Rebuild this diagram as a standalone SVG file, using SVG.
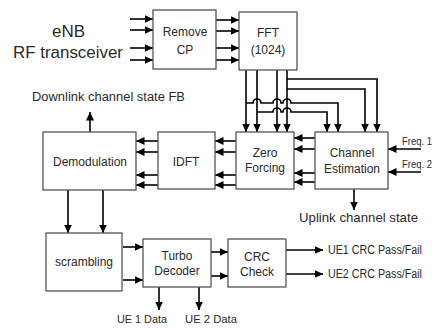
<svg xmlns="http://www.w3.org/2000/svg" width="440" height="329" viewBox="0 0 440 329">
<defs>
<marker id="ah" markerUnits="userSpaceOnUse" markerWidth="9" markerHeight="9" refX="8.5" refY="4.5" orient="auto">
<path d="M0,0.5 L8.5,4.5 L0,8.5 z" fill="#000"/>
</marker>
</defs>
<style>
.box{fill:#fff;stroke:#555;stroke-width:1.3}
.t{font-family:"Liberation Sans",Arial,sans-serif;font-size:12px;fill:#2a2a2a;text-anchor:middle}
.l{font-family:"Liberation Sans",Arial,sans-serif;fill:#2a2a2a}
.c{fill:none;stroke:#000;stroke-width:1.6}
.a{fill:none;stroke:#000;stroke-width:1.6;marker-end:url(#ah)}
</style>
<rect width="440" height="329" fill="#fff"/>

<g id="connectors">
<path class="a" d="M130,19 H153"/>
<path class="a" d="M130,30 H153"/>
<path class="a" d="M130,48 H153"/>
<path class="a" d="M130,60 H153"/>
<path class="a" d="M216,20 H239"/>
<path class="a" d="M216,31 H239"/>
<path class="a" d="M216,48 H239"/>
<path class="a" d="M216,60 H239"/>
<path class="a" d="M246,70 V132"/>
<path class="a" d="M257,70 V132"/>
<path class="a" d="M277,70 V132"/>
<path class="a" d="M287,70 V132"/>
<path class="a" d="M287,79 H377 V132"/>
<path class="a" d="M287,89 H365 V132"/>
<path class="a" d="M246,103 H253 a4,4 0 0 1 8,0 H273 a4,4 0 0 1 8,0 H283 a4,4 0 0 1 8,0 H338 V132"/>
<path class="a" d="M257,112 H273 a4,4 0 0 1 8,0 H283 a4,4 0 0 1 8,0 H327 V132"/>
<path class="a" d="M315,138 H294"/>
<path class="a" d="M315,149 H294"/>
<path class="a" d="M315,173 H294"/>
<path class="a" d="M315,182 H294"/>
<path class="a" d="M236,141 H215"/>
<path class="a" d="M236,152 H215"/>
<path class="a" d="M236,175 H215"/>
<path class="a" d="M236,185 H215"/>
<path class="a" d="M158,141 H136"/>
<path class="a" d="M158,152 H136"/>
<path class="a" d="M158,175 H136"/>
<path class="a" d="M158,185 H136"/>
<path class="a" d="M90,132 V112"/>
<path class="a" d="M421,149 H388"/>
<path class="a" d="M421,172 H388"/>
<path class="a" d="M354,189 V210"/>
<path class="a" d="M68,190 V233"/>
<path class="a" d="M103,190 V233"/>
<path class="a" d="M123,247 H143"/>
<path class="a" d="M123,280 H143"/>
<path class="a" d="M159,287 V310"/>
<path class="a" d="M199,287 V310"/>
<path class="a" d="M211,252 H228"/>
<path class="a" d="M211,276 H228"/>
<path class="a" d="M286,250 H323"/>
<path class="a" d="M286,274 H323"/>
</g>

<g id="remove-cp"><rect class="box" x="153" y="10" width="63" height="59"/><text class="t" x="185" y="36">Remove</text><text class="t" x="185" y="54">CP</text></g>
<g id="fft"><rect class="box" x="239" y="12" width="58" height="58"/><text class="t" x="268" y="37">FFT</text><text class="t" x="268" y="54">(1024)</text></g>
<g id="demodulation"><rect class="box" x="43" y="132" width="93" height="58"/><text class="t" x="90" y="166">Demodulation</text></g>
<g id="idft"><rect class="box" x="158" y="132" width="57" height="57"/><text class="t" x="186" y="166">IDFT</text></g>
<g id="zero-forcing"><rect class="box" x="236" y="132" width="58" height="57"/><text class="t" x="265" y="157">Zero</text><text class="t" x="265" y="172">Forcing</text></g>
<g id="channel-estimation"><rect class="box" x="315" y="132" width="73" height="57"/><text class="t" x="352" y="157">Channel</text><text class="t" x="352" y="173">Estimation</text></g>
<g id="scrambling"><rect class="box" x="46" y="233" width="76" height="58"/><text class="t" x="84" y="266">scrambling</text></g>
<g id="turbo-decoder"><rect class="box" x="143" y="239" width="68" height="48"/><text class="t" x="177" y="260">Turbo</text><text class="t" x="177" y="275">Decoder</text></g>
<g id="crc-check"><rect class="box" x="228" y="239" width="58" height="48"/><text class="t" x="257" y="261">CRC</text><text class="t" x="257" y="276">Check</text></g>

<g id="labels">
<text class="l" x="52" y="37" font-size="17" textLength="33" lengthAdjust="spacingAndGlyphs">eNB</text>
<text class="l" x="13" y="58" font-size="17" textLength="110" lengthAdjust="spacingAndGlyphs">RF transceiver</text>
<text class="l" x="32" y="101" font-size="12.5" textLength="153" lengthAdjust="spacingAndGlyphs">Downlink channel state FB</text>
<text class="l" x="402" y="145" font-size="11.5" textLength="30" lengthAdjust="spacingAndGlyphs">Freq. 1</text>
<text class="l" x="402" y="168" font-size="11.5" textLength="30" lengthAdjust="spacingAndGlyphs">Freq. 2</text>
<text class="l" x="299" y="222" font-size="13" textLength="119" lengthAdjust="spacingAndGlyphs">Uplink channel state</text>
<text class="l" x="328" y="254" font-size="12" textLength="94" lengthAdjust="spacingAndGlyphs">UE1 CRC Pass/Fail</text>
<text class="l" x="328" y="278" font-size="12" textLength="94" lengthAdjust="spacingAndGlyphs">UE2 CRC Pass/Fail</text>
<text class="l" x="117" y="323" font-size="11.5" textLength="50" lengthAdjust="spacingAndGlyphs">UE 1 Data</text>
<text class="l" x="185" y="323" font-size="11.5" textLength="52" lengthAdjust="spacingAndGlyphs">UE 2 Data</text>
</g>
</svg>
